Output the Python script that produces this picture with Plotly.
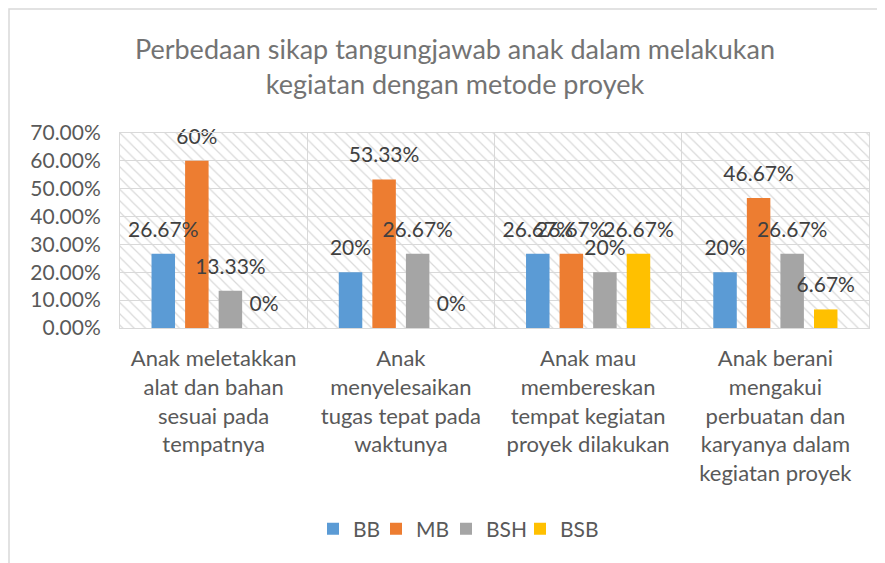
import plotly.graph_objects as go

# ---------------- data ----------------
categories = [
    "Anak meletakkan<br>alat dan bahan<br>sesuai pada<br>tempatnya",
    "Anak<br>menyelesaikan<br>tugas tepat pada<br>waktunya",
    "Anak mau<br>membereskan<br>tempat kegiatan<br>proyek dilakukan",
    "Anak berani<br>mengakui<br>perbuatan dan<br>karyanya dalam<br>kegiatan proyek",
]
series_names = ["BB", "MB", "BSH", "BSB"]
bb = [26.67, 20, 26.67, 20]
mb = [60, 53.33, 26.67, 46.67]
bsh = [13.33, 26.67, 20, 26.67]
bsb = [0, 0, 26.67, 6.67]
y_tick_values = [0, 10, 20, 30, 40, 50, 60, 70]
y_tick_labels = ["0.00%", "10.00%", "20.00%", "30.00%", "40.00%", "50.00%", "60.00%", "70.00%"]

series_values = [bb, mb, bsh, bsb]
colors = ["#5B9BD5", "#ED7D31", "#A5A5A5", "#FFC000"]
legend_widths = [18, 25, 29, 36]   # style: legend entry spacing (px)

TITLE = "Perbedaan sikap tangungjawab anak dalam melakukan<br>kegiatan dengan metode proyek"
FONT = "Lato"
Y_MAX = y_tick_values[-1]
LABEL_PAD = 3.6  # style: lift of data labels above bar ends (axis units)
GRID = "#D9D9D9"

# figure size leaves room for the page's default 8px body margin
W, H = 877, 555
PL, PR, PT, PB = 112, 861, 125, 320   # plot-area edges in figure pixels


def fmt(v):
    return f"{v:g}%"


fig = go.Figure()

# hatched plot-area background (decoration spanning the whole plot area)
fig.add_trace(go.Bar(
    x=[0.5], y=[Y_MAX], width=[1], xaxis="x", yaxis="y",
    marker=dict(color="rgba(0,0,0,0)", line=dict(width=0),
                pattern=dict(shape="\\", fgcolor="#D9D9D9", bgcolor="rgba(0,0,0,0)",
                             size=8, solidity=0.15, fillmode="replace")),
    showlegend=False, hoverinfo="skip",
))

for i, (name, vals, col, lw) in enumerate(zip(series_names, series_values, colors, legend_widths)):
    fig.add_trace(go.Bar(
        name=name, x=categories, y=vals, xaxis="x2", yaxis="y",
        marker=dict(color=col, line=dict(width=0)),
        offsetgroup=str(i), legendwidth=lw,
    ))
for i, (name, vals) in enumerate(zip(series_names, series_values)):
    # invisible carrier bars that hold the data labels slightly above each bar
    fig.add_trace(go.Bar(
        x=categories, y=[LABEL_PAD] * len(vals), base=vals, xaxis="x2", yaxis="y",
        marker=dict(color="rgba(0,0,0,0)", line=dict(width=0)),
        offsetgroup=str(i), showlegend=False, hoverinfo="skip",
        text=[fmt(v) for v in vals], textposition="outside", constraintext="none",
        cliponaxis=False, textfont=dict(family=FONT, size=21, color="#404040"),
    ))

pw, ph = PR - PL, PB - PT
fig.update_layout(
    width=W, height=H,
    margin=dict(l=PL, r=W - PR, t=PT, b=H - PB, autoexpand=False),
    paper_bgcolor="white", plot_bgcolor="white",
    barmode="group", bargap=0.283, bargroupgap=0.3,
    font=dict(family=FONT, color="#595959"),
    title=dict(text=TITLE, x=447 / W, xanchor="center", y=1 - 51 / H, yanchor="middle",
               yref="container", font=dict(family=FONT, size=27, color="#737373")),
    xaxis=dict(domain=[0, 1], range=[0, 1], visible=False, fixedrange=True, automargin=False),
    xaxis2=dict(overlaying="x", anchor="y", side="bottom", type="category",
                tickson="boundaries", showgrid=True, gridcolor=GRID, gridwidth=1,
                showline=True, linecolor=GRID, linewidth=1, mirror=True, ticks="",
                tickfont=dict(family=FONT, size=22, color="#595959"),
                ticklabelstandoff=11, automargin=False),
    yaxis=dict(range=[0, Y_MAX], tickvals=y_tick_values, ticktext=y_tick_labels,
               showgrid=True, gridcolor=GRID, gridwidth=1, zeroline=False,
               showline=True, linecolor=GRID, mirror=True, ticks="",
               tickfont=dict(family=FONT, size=21, color="#595959"),
               ticklabelstandoff=14, automargin=False),
    legend=dict(orientation="h", xref="container", yref="container",
                x=449 / W, xanchor="center", y=1 - 521 / H, yanchor="middle",
                font=dict(family=FONT, size=21, color="#595959"),
                itemwidth=30, traceorder="normal"),
    shapes=[dict(type="rect", xref="paper", yref="paper",
                 x0=(1 - PL) / pw, x1=1.2, y0=-1.5, y1=(PB - 1) / ph,
                 line=dict(color=GRID, width=1.5), fillcolor="rgba(0,0,0,0)", layer="below")],
)

fig.write_html("out.html")
